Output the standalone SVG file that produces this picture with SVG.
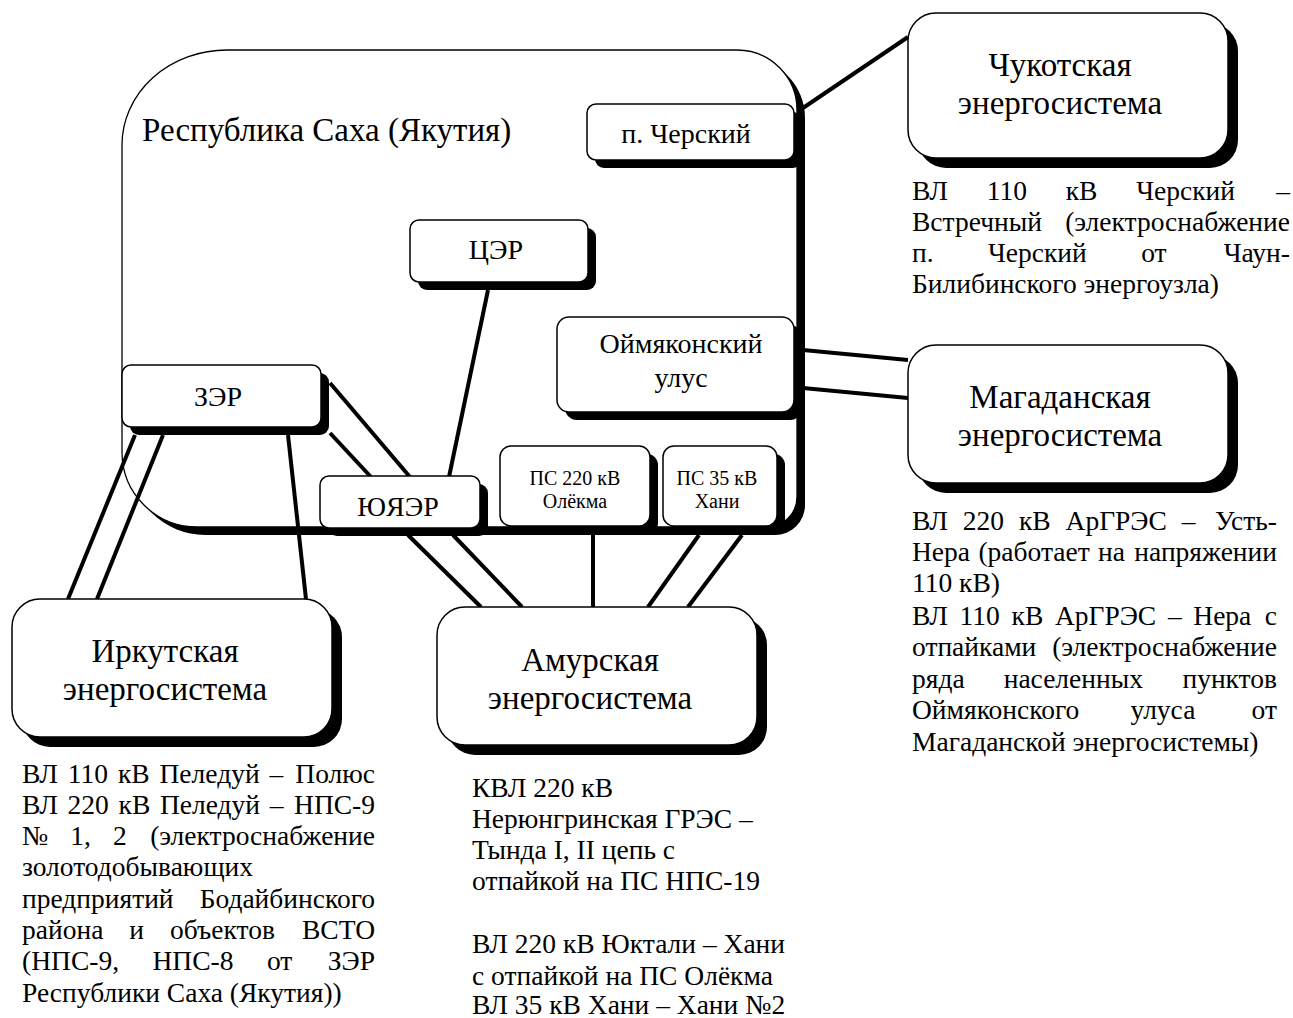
<svg xmlns="http://www.w3.org/2000/svg" width="1293" height="1018" viewBox="0 0 1293 1018">
<style>
text{font-family:"Liberation Serif","Times New Roman",serif;fill:#000}
.sh{fill:#000}
.reg{fill:#fff;stroke:#000;stroke-width:1.3}
.bx{fill:#fff;stroke:#000;stroke-width:1.5}
.c{stroke:#000;stroke-width:4;fill:none}
.t27{font-size:28px;text-anchor:middle}
.t32{font-size:33px;text-anchor:middle}
.t20{font-size:20px;text-anchor:middle}
.b{font-size:27.5px}
.e{text-anchor:end}
</style>
<defs>
<path id="regp" d="M122,145 A105 95 0 0 1 227,50 L737,50 A60 60 0 0 1 797,110 L797,497 A30 30 0 0 1 767,527 L197,527 A75 75 0 0 1 122,452 Z"/>
</defs>

<g id="region">
<use href="#regp" class="sh" transform="translate(8,8)"/>
<use href="#regp" class="reg"/>
<text x="142" y="141" style="font-size:33px">Республика Саха (Якутия)</text>
</g>

<g id="connectors">
<line class="c" x1="800" y1="110" x2="908" y2="37"/>
<line class="c" x1="803" y1="350" x2="908" y2="360"/>
<line class="c" x1="803" y1="388" x2="908" y2="398"/>
<line class="c" x1="135" y1="435" x2="68" y2="599"/>
<line class="c" x1="163" y1="435" x2="97" y2="599"/>
<line class="c" x1="288" y1="435" x2="306" y2="599"/>
<line class="c" x1="330" y1="383" x2="410" y2="477"/>
<line class="c" x1="330" y1="433" x2="371" y2="477"/>
<line class="c" x1="488" y1="290" x2="449" y2="477"/>
<line class="c" x1="408" y1="535" x2="481" y2="607"/>
<line class="c" x1="453" y1="535" x2="522" y2="607"/>
<line class="c" x1="593" y1="535" x2="593" y2="607"/>
<line class="c" x1="699" y1="535" x2="648" y2="607"/>
<line class="c" x1="742" y1="535" x2="688" y2="607"/>
</g>

<g id="n-chersky">
<rect class="sh" x="595" y="112" width="207" height="56" rx="9"/>
<rect class="bx" x="587" y="104" width="207" height="56" rx="9"/>
<text class="t27" x="686" y="143">п. Черский</text>
</g>
<g id="n-cer">
<rect class="sh" x="418" y="228" width="178" height="62" rx="9"/>
<rect class="bx" x="410" y="220" width="178" height="62" rx="9"/>
<text class="t27" x="496" y="259">ЦЭР</text>
</g>
<g id="n-oymyakon">
<rect class="sh" x="565" y="325" width="237" height="95" rx="12"/>
<rect class="bx" x="557" y="317" width="237" height="95" rx="12"/>
<text class="t27" x="681" y="353">Оймяконский</text>
<text class="t27" x="681" y="387">улус</text>
</g>
<g id="n-zer">
<rect class="sh" x="130" y="373" width="199" height="62" rx="9"/>
<rect class="bx" x="122" y="365" width="199" height="62" rx="9"/>
<text class="t27" x="218" y="406">ЗЭР</text>
</g>
<g id="n-yuyaer">
<rect class="sh" x="328" y="484" width="160" height="52" rx="9"/>
<rect class="bx" x="320" y="476" width="160" height="52" rx="9"/>
<text class="t27" x="398" y="516">ЮЯЭР</text>
</g>
<g id="n-olekma">
<rect class="sh" x="508" y="454" width="150" height="80" rx="11"/>
<rect class="bx" x="500" y="446" width="150" height="80" rx="11"/>
<text class="t20" x="575" y="485">ПС 220 кВ</text>
<text class="t20" x="575" y="508">Олёкма</text>
</g>
<g id="n-khani">
<rect class="sh" x="671" y="454" width="114" height="80" rx="11"/>
<rect class="bx" x="663" y="446" width="114" height="80" rx="11"/>
<text class="t20" x="717" y="485">ПС 35 кВ</text>
<text class="t20" x="717" y="508">Хани</text>
</g>

<g id="n-chukotka">
<rect class="sh" x="918" y="23" width="320" height="145" rx="28"/>
<rect class="bx" x="908" y="13" width="320" height="145" rx="28"/>
<text class="t32" x="1060" y="76">Чукотская</text>
<text class="t32" x="1060" y="114">энергосистема</text>
</g>
<g id="n-magadan">
<rect class="sh" x="918" y="355" width="320" height="138" rx="28"/>
<rect class="bx" x="908" y="345" width="320" height="138" rx="28"/>
<text class="t32" x="1060" y="408">Магаданская</text>
<text class="t32" x="1060" y="446">энергосистема</text>
</g>
<g id="n-irkutsk">
<rect class="sh" x="22" y="609" width="320" height="138" rx="28"/>
<rect class="bx" x="12" y="599" width="320" height="138" rx="28"/>
<text class="t32" x="165" y="662">Иркутская</text>
<text class="t32" x="165" y="700">энергосистема</text>
</g>
<g id="n-amur">
<rect class="sh" x="447" y="617" width="320" height="138" rx="28"/>
<rect class="bx" x="437" y="607" width="320" height="138" rx="28"/>
<text class="t32" x="590" y="671">Амурская</text>
<text class="t32" x="590" y="709">энергосистема</text>
</g>

<g id="note-chukotka" class="b">
<text x="912" y="200" style="word-spacing:31.9px">ВЛ 110 кВ Черский</text>
<text class="e" x="1290" y="200">–</text>
<text x="912" y="231">Встречный</text>
<text class="e" x="1290" y="231">(электроснабжение</text>
<text x="912" y="262" style="word-spacing:47.5px">п. Черский от</text>
<text class="e" x="1290" y="262">Чаун-</text>
<text x="912" y="293">Билибинского энергоузла)</text>
</g>

<g id="note-magadan" class="b">
<text x="912" y="530" style="word-spacing:8px">ВЛ 220 кВ АрГРЭС –</text>
<text class="e" x="1277" y="530">Усть-</text>
<text x="912" y="561" style="word-spacing:1.5px">Нера (работает на</text>
<text class="e" x="1277" y="561">напряжении</text>
<text x="912" y="592">110 кВ)</text>
<text x="912" y="625" style="word-spacing:4.8px">ВЛ 110 кВ АрГРЭС – Нера</text>
<text class="e" x="1277" y="625">с</text>
<text x="912" y="656">отпайками</text>
<text class="e" x="1277" y="656">(электроснабжение</text>
<text x="912" y="688" style="word-spacing:32.2px">ряда населенных</text>
<text class="e" x="1277" y="688">пунктов</text>
<text x="912" y="719" style="word-spacing:44.4px">Оймяконского улуса</text>
<text class="e" x="1277" y="719">от</text>
<text x="912" y="751">Магаданской энергосистемы)</text>
</g>

<g id="note-irkutsk" class="b">
<text x="22" y="783" style="word-spacing:3px">ВЛ 110 кВ Пеледуй –</text>
<text class="e" x="375" y="783">Полюс</text>
<text x="22" y="814" style="word-spacing:2.8px">ВЛ 220 кВ Пеледуй –</text>
<text class="e" x="375" y="814">НПС-9</text>
<text x="22" y="845" style="word-spacing:15.2px">№ 1, 2</text>
<text class="e" x="375" y="845">(электроснабжение</text>
<text x="22" y="876">золотодобывающих</text>
<text x="22" y="908">предприятий</text>
<text class="e" x="375" y="908">Бодайбинского</text>
<text x="22" y="939" style="word-spacing:19.1px">района и объектов</text>
<text class="e" x="375" y="939">ВСТО</text>
<text x="22" y="970" style="word-spacing:26.6px">(НПС-9, НПС-8 от</text>
<text class="e" x="375" y="970">ЗЭР</text>
<text x="22" y="1002">Республики Саха (Якутия))</text>
</g>

<g id="note-amur" class="b">
<text x="472" y="797">КВЛ 220 кВ</text>
<text x="472" y="828">Нерюнгринская ГРЭС –</text>
<text x="472" y="859">Тында I, II цепь с</text>
<text x="472" y="890">отпайкой на ПС НПС-19</text>
<text x="472" y="953">ВЛ 220 кВ Юктали – Хани</text>
<text x="472" y="985">с отпайкой на ПС Олёкма</text>
<text x="472" y="1014">ВЛ 35 кВ Хани – Хани №2</text>
</g>
</svg>
